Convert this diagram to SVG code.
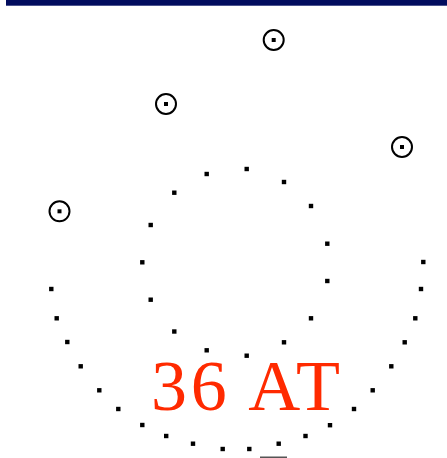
<svg xmlns="http://www.w3.org/2000/svg" xmlns:xlink="http://www.w3.org/1999/xlink" width="447" height="458" viewBox="0 0 447 458">
<style>
.lbl{font-family:"Liberation Serif","Times New Roman",serif;font-size:72px;fill:#ff2a00}
</style>
<defs>
<rect id="d" x="-2.2" y="-2.2" width="4.4" height="4.4" fill="#000"/>
<g id="ring"><circle r="10" fill="none" stroke="#000" stroke-width="2"/><rect x="-2" y="-2" width="4" height="4" fill="#000"/></g>
</defs>
<rect width="447" height="458" fill="#fff"/>
<rect x="6" y="0" width="441" height="5.7" fill="#020c5e"/>
<g id="rings">
<use xlink:href="#ring" x="273.7" y="40"/>
<use xlink:href="#ring" x="166" y="104"/>
<use xlink:href="#ring" x="402" y="147"/>
<use xlink:href="#ring" x="59.5" y="211.3"/>
</g>
<g id="inner-ring">
<use xlink:href="#d" x="206.7" y="174"/>
<use xlink:href="#d" x="246.7" y="169"/>
<use xlink:href="#d" x="284" y="182"/>
<use xlink:href="#d" x="311" y="206"/>
<use xlink:href="#d" x="327.3" y="243.7"/>
<use xlink:href="#d" x="327.3" y="281"/>
<use xlink:href="#d" x="311" y="318.3"/>
<use xlink:href="#d" x="284" y="342.3"/>
<use xlink:href="#d" x="246.7" y="355.7"/>
<use xlink:href="#d" x="206.7" y="350.3"/>
<use xlink:href="#d" x="174.3" y="331.5"/>
<use xlink:href="#d" x="150.7" y="299.7"/>
<use xlink:href="#d" x="142.3" y="262.3"/>
<use xlink:href="#d" x="150.7" y="225"/>
<use xlink:href="#d" x="174.3" y="192.7"/>
</g>
<g id="outer-arc">
<use xlink:href="#d" x="51.3" y="289"/>
<use xlink:href="#d" x="56.7" y="318.3"/>
<use xlink:href="#d" x="67.3" y="342"/>
<use xlink:href="#d" x="80.7" y="366.3"/>
<use xlink:href="#d" x="99.3" y="390.3"/>
<use xlink:href="#d" x="118.3" y="409"/>
<use xlink:href="#d" x="142.3" y="425"/>
<use xlink:href="#d" x="166.2" y="436"/>
<use xlink:href="#d" x="193" y="443.7"/>
<use xlink:href="#d" x="222.7" y="449"/>
<use xlink:href="#d" x="249.3" y="449"/>
<use xlink:href="#d" x="278.7" y="443.7"/>
<use xlink:href="#d" x="305.5" y="436"/>
<use xlink:href="#d" x="330" y="425.2"/>
<use xlink:href="#d" x="354" y="409"/>
<use xlink:href="#d" x="372.7" y="390.3"/>
<use xlink:href="#d" x="391.3" y="366.3"/>
<use xlink:href="#d" x="404.7" y="342.3"/>
<use xlink:href="#d" x="415.3" y="318.3"/>
<use xlink:href="#d" x="421" y="289"/>
<use xlink:href="#d" x="423.3" y="262"/>
</g>
<rect x="260" y="456.5" width="27" height="1.5" fill="#555"/>
<g id="label"><text class="lbl" x="151" y="410" textLength="189" lengthAdjust="spacing">36 AT</text></g>
</svg>
